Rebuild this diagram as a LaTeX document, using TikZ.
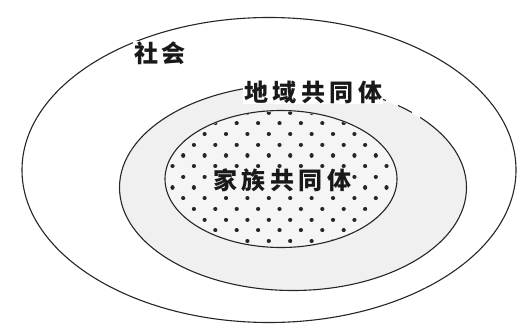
\documentclass[tikz,border=0pt]{standalone}
\usepackage{fontspec}
\newfontfamily\cjk{Noto Sans CJK SC}
\usetikzlibrary{shapes.geometric}
\begin{document}
\begin{tikzpicture}[x=1pt,y=-1pt,
  ring/.style={ellipse, draw=black!85, line width=1.1pt, inner sep=0pt},
  gap/.style={white, line width=1.9pt},
  dot/.style={black!85, line width=4.2pt, line cap=round},
  lbl/.style={font=\cjk\bfseries\fontsize{24}{24}\selectfont, inner sep=1pt, text=black!90}]
\useasboundingbox (0,0) rectangle (518,326);
\fill[white] (0,0) rectangle (518,326);
\node[ring, minimum width=494pt, minimum height=305pt] (society) at (269,170) {};
\node[ring, fill=black!6, minimum width=347pt, minimum height=206pt] (region) at (293,187.5) {};
\draw[gap, domain=52.8:57.6, samples=8] plot ({293+173.5*cos(\x)},{187.5-103*sin(\x)});
\draw[gap, domain=42.9:46.7, samples=8] plot ({293+173.5*cos(\x)},{187.5-103*sin(\x)});
\fill[black!4] (281,179) ellipse [x radius=116pt, y radius=68.5pt];
\begin{scope}
  \clip (281,179) ellipse [x radius=115pt, y radius=67.5pt];
  \foreach \k in {-2,...,12} {
    \foreach \j in {-4,...,7} {
      \draw[dot] ({236.7+21.4*\j-10.7*mod(\k+2,2)},{123.3+10.7*\k}) -- ++(0.01,0);
    }
  }
\end{scope}
\node[ring, minimum width=232pt, minimum height=137pt] (family) at (281,179) {};
\node[lbl, fill=white] (tsociety) at (160,53) {社\kern4pt 会};
\node[lbl, fill=white] (tregion) at (313,92) {地\kern4.5pt 域\kern4.5pt 共\kern4.5pt 同\kern4.5pt 体};
\node[lbl, fill=black!4, inner sep=0pt] (tfamily) at (282,180) {家\kern4.5pt 族\kern4.5pt 共\kern4.5pt 同\kern4.5pt 体};
\end{tikzpicture}
\end{document}
